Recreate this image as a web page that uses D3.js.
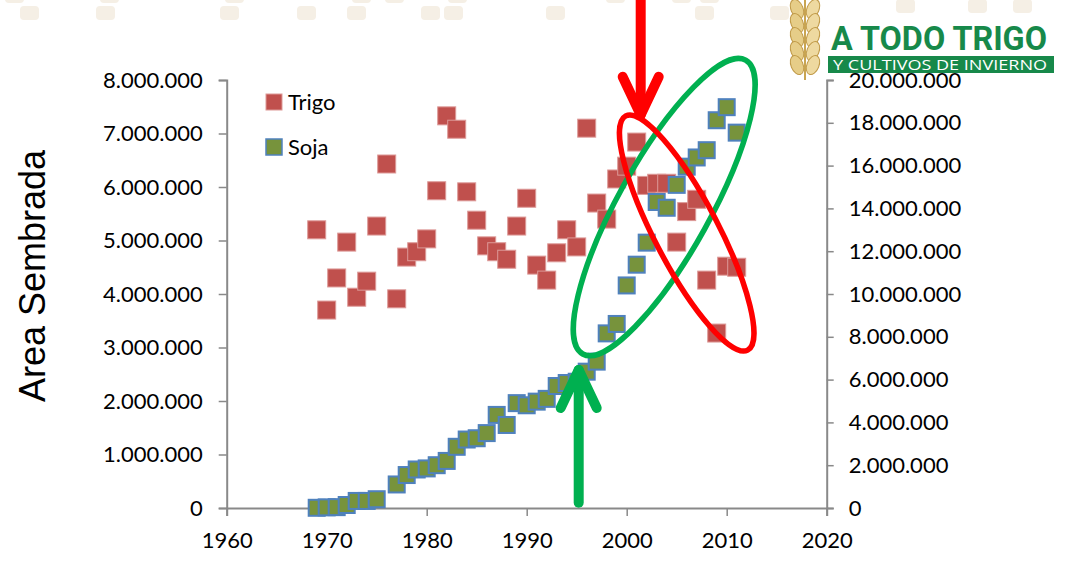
<!DOCTYPE html>
<html>
<head>
<meta charset="utf-8">
<script src="https://cdn.jsdelivr.net/npm/d3@7"></script>
<style>
  body { margin: 0; background: #fff; }
  .tick-font { font-family: Lato, "Open Sans", sans-serif; font-size: 22px; fill: #000; }
</style>
</head>
<body>
<div id="vis"></div>
<script>
const FRAME_WIDTH = 1072;
const FRAME_HEIGHT = 570;

// plot box (pixels)
const PLOT = {left: 226.7, right: 826.7, top: 80, bottom: 508};

// ---- data ----
const YEARS = [1969, 1970, 1971, 1972, 1973, 1974, 1975, 1976, 1977, 1978,
               1979, 1980, 1981, 1982, 1983, 1984, 1985, 1986, 1987, 1988,
               1989, 1990, 1991, 1992, 1993, 1994, 1995, 1996, 1997, 1998,
               1999, 2000, 2001, 2002, 2003, 2004, 2005, 2006, 2007, 2008,
               2009, 2010, 2011];

// Trigo, hectareas (eje izquierdo)
const TRIGO = [5200000, 3700000, 4300000, 4970000, 3940000, 4240000, 5270000, 6430000, 3910000, 4690000,
               4790000, 5030000, 5930000, 7330000, 7080000, 5910000, 5380000, 4900000, 4790000, 4650000,
               5270000, 5790000, 4540000, 4260000, 4770000, 5200000, 4880000, 7100000, 5700000, 5400000,
               6150000, 6390000, 6840000, 6030000, 6070000, 6070000, 4970000, 5540000, 5770000, 4260000,
               3270000, 4520000, 4500000];

// Soja, hectareas (eje derecho)
const SOJA = [10000, 30000, 40000, 140000, 330000, 330000, 410000, null, 1100000, 1540000,
              1800000, 1850000, 2000000, 2200000, 2860000, 3200000, 3260000, 3500000, 4350000, 3880000,
              4900000, 4800000, 4970000, 5100000, 5700000, 5840000, 5900000, 6370000, 6840000, 8160000,
              8600000, 10400000, 11370000, 12400000, 14300000, 14030000, 15100000, 15950000, 16380000, 16720000,
              18120000, 18730000, 17540000];

const X_TICKS = [1960, 1970, 1980, 1990, 2000, 2010, 2020];
const LEFT_TICKS = [0, 1000000, 2000000, 3000000, 4000000, 5000000, 6000000, 7000000, 8000000];
const RIGHT_TICKS = [0, 2000000, 4000000, 6000000, 8000000, 10000000, 12000000, 14000000, 16000000, 18000000, 20000000];
const SERIES_NAMES = ["Trigo", "Soja"];

// ---- setup ----
const SVG = d3.select("#vis")
  .append("svg")
  .attr("width", FRAME_WIDTH)
  .attr("height", FRAME_HEIGHT);

const X_SCALE = d3.scaleLinear().domain([1960, 2020]).range([PLOT.left, PLOT.right]);
const Y_LEFT = d3.scaleLinear().domain([0, 8000000]).range([PLOT.bottom, PLOT.top]);
const Y_RIGHT = d3.scaleLinear().domain([0, 20000000]).range([PLOT.bottom, PLOT.top]);

const LOCALE = d3.formatLocale({decimal: ",", thousands: ".", grouping: [3], currency: ["", ""]});
const FMT = LOCALE.format(",d");

// faint slide decoration at the top
const DECOR = [[20, 6], [96, 6], [220, 6], [297, 6], [347, 6], [421, 6], [444, 6], [546, 6], [695, 6], [770, 6],
               [896, -1], [968, -1], [1013, -1], [5, -11], [100, -11], [225, -11], [352, -11], [385, -11], [448, -11], [606, -11], [672, -11], [700, -11]];
SVG.selectAll(".decor")
  .data(DECOR)
  .enter()
  .append("rect")
    .attr("x", d => d[0])
    .attr("y", d => d[1])
    .attr("width", 19)
    .attr("height", 14)
    .attr("rx", 4)
    .attr("fill", "#f5efe5");

// ---- axes ----
const xAxis = SVG.append("g")
  .attr("transform", "translate(0," + PLOT.bottom + ")")
  .call(d3.axisBottom(X_SCALE).tickValues(X_TICKS).tickFormat(d3.format("d")).tickSize(8).tickPadding(16));

const leftAxis = SVG.append("g")
  .attr("transform", "translate(" + PLOT.left + ",0)")
  .call(d3.axisLeft(Y_LEFT).tickValues(LEFT_TICKS).tickFormat(FMT).tickSize(8).tickPadding(16));

const rightAxis = SVG.append("g")
  .attr("transform", "translate(" + PLOT.right + ",0)")
  .call(d3.axisRight(Y_RIGHT).tickValues(RIGHT_TICKS).tickFormat(FMT).tickSize(7).tickPadding(15));

[xAxis, leftAxis, rightAxis].forEach(g => {
  g.select(".domain").attr("stroke", "#898989").attr("stroke-width", 2);
  g.selectAll(".tick line").attr("stroke", "#898989").attr("stroke-width", 1.5);
  g.selectAll(".tick text").attr("class", "tick-font").attr("fill", "#000");
});

// y title
SVG.append("text")
  .attr("transform", "translate(45," + 276 + ") rotate(-90)")
  .attr("text-anchor", "middle")
  .style("font-family", "'Liberation Sans', Arial, sans-serif")
  .style("font-size", "36px")
  .attr("fill", "#000")
  .text("Area Sembrada");

// ---- points ----
const trigoData = YEARS.map((y, i) => ({year: y, value: TRIGO[i]})).filter(d => d.value != null);
const sojaData = YEARS.map((y, i) => ({year: y, value: SOJA[i]})).filter(d => d.value != null);

const T_SIZE = 18;
SVG.selectAll(".trigo")
  .data(trigoData)
  .enter()
  .append("rect")
    .attr("class", "trigo")
    .attr("x", d => X_SCALE(d.year) - T_SIZE / 2)
    .attr("y", d => Y_LEFT(d.value) - T_SIZE / 2)
    .attr("width", T_SIZE)
    .attr("height", T_SIZE)
    .attr("fill", "#c0504d")
    .attr("stroke", "#dd9a98")
    .attr("stroke-width", 1);

const S_SIZE = 16;
SVG.selectAll(".soja")
  .data(sojaData)
  .enter()
  .append("rect")
    .attr("class", "soja")
    .attr("x", d => X_SCALE(d.year) - S_SIZE / 2)
    .attr("y", d => Y_RIGHT(d.value) - S_SIZE / 2)
    .attr("width", S_SIZE)
    .attr("height", S_SIZE)
    .attr("fill", "#77933c")
    .attr("stroke", "#4f81bd")
    .attr("stroke-width", 2);

// ---- legend ----
const LEGEND = SVG.append("g");
SERIES_NAMES.forEach((name, i) => {
  const cy = 102 + i * 45;
  LEGEND.append("rect")
    .attr("x", 274 - 8).attr("y", cy - 8)
    .attr("width", 16).attr("height", 16)
    .attr("fill", i == 0 ? "#c0504d" : "#77933c")
    .attr("stroke", i == 0 ? "#dd9a98" : "#4f81bd")
    .attr("stroke-width", i == 0 ? 1 : 1.5);
  LEGEND.append("text")
    .attr("x", 288).attr("y", cy + 7.5)
    .attr("class", "tick-font")
    .text(name);
});

// ---- annotations (placed in data space) ----
function arrow(color, xYear, yTip, yTail, dir) {
  const x = X_SCALE(xYear);
  const tip = Y_LEFT(yTip);
  const tail = Y_LEFT(yTail);
  const g = SVG.append("g")
    .attr("stroke", color).attr("stroke-width", 10)
    .attr("stroke-linecap", "round").attr("stroke-linejoin", "round").attr("fill", "none");
  g.append("line").attr("x1", x).attr("x2", x).attr("y1", tail).attr("y2", tip);
  g.append("path").attr("d", d3.line()([[x - 18, tip - dir * 38], [x, tip], [x + 18, tip - dir * 38]]));
}

function ellipse(color, cxYear, cyVal, rx, ry, angle) {
  SVG.append("ellipse")
    .attr("transform", "translate(" + X_SCALE(cxYear) + "," + Y_LEFT(cyVal) + ") rotate(" + angle + ")")
    .attr("rx", rx).attr("ry", ry)
    .attr("fill", "none").attr("stroke", color).attr("stroke-width", 5.5);
}

ellipse("#00b050", 2003.75, 5.625e6, 168, 46, -61);
ellipse("#ff0000", 2006.0, 5.14e6, 132, 32, 62.5);
arrow("#ff0000", 2001.4, 7.35e6, 9.5e6, 1);
arrow("#00b050", 1995.2, 2.58e6, 0.1e6, -1);

// ---- logo ----
const LOGO = SVG.append("g");
const ear = LOGO.append("g");
ear.append("line").attr("x1", 805).attr("y1", 0).attr("x2", 805).attr("y2", 80)
  .attr("stroke", "#c9a552").attr("stroke-width", 2);
[2, 16, 30, 44, 58].forEach(yy => {
  ear.append("ellipse").attr("transform", "translate(797," + (yy + 7) + ") rotate(-22)")
    .attr("rx", 6).attr("ry", 10).attr("fill", "#e6cd88").attr("stroke", "#c09a48").attr("stroke-width", 1);
  ear.append("ellipse").attr("transform", "translate(813," + (yy + 7) + ") rotate(22)")
    .attr("rx", 6).attr("ry", 10).attr("fill", "#eed9a0").attr("stroke", "#c09a48").attr("stroke-width", 1);
});
LOGO.append("text")
  .attr("x", 831).attr("y", 50)
  .attr("textLength", 216).attr("lengthAdjust", "spacingAndGlyphs")
  .style("font-family", "Roboto, sans-serif").style("font-weight", "bold").style("font-size", "33px")
  .attr("fill", "#17894a")
  .text("A TODO TRIGO");
LOGO.append("rect")
  .attr("x", 828).attr("y", 56).attr("width", 226).attr("height", 17)
  .attr("fill", "#17894a");
LOGO.append("text")
  .attr("x", 833).attr("y", 70)
  .attr("textLength", 214).attr("lengthAdjust", "spacingAndGlyphs")
  .style("font-family", "'Open Sans', sans-serif").style("font-size", "15px")
  .attr("fill", "#fff")
  .text("Y CULTIVOS DE INVIERNO");
</script>
</body>
</html>
